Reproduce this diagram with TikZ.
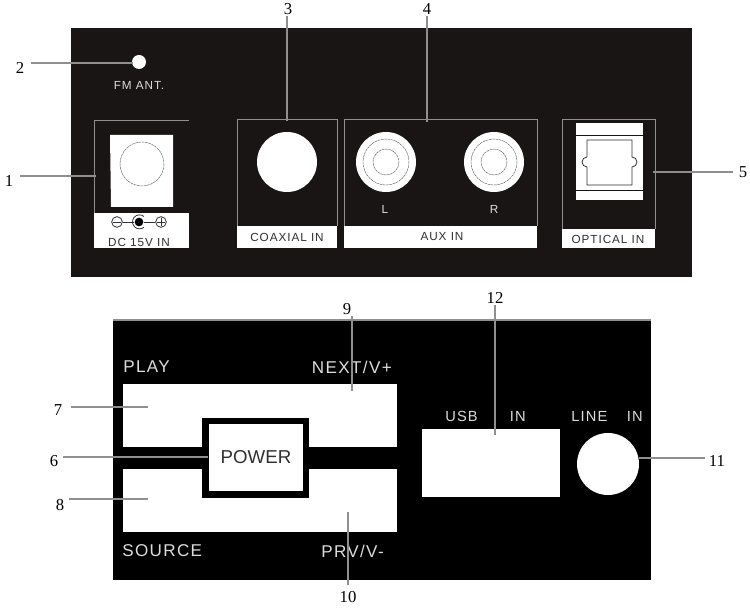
\documentclass[tikz,border=0pt]{standalone}
\usepackage{fontspec}
\setmainfont{Liberation Sans}
\newfontfamily\numfont{Liberation Serif}
\newfontfamily\panelfont[LetterSpace=8]{Liberation Sans}
\definecolor{topbg}{HTML}{1A1515}
\definecolor{leader}{HTML}{8F8F8F}
\definecolor{paneltxt}{HTML}{DCDCDC}
\definecolor{boxtxt}{HTML}{303030}
\tikzset{
  x=0.75pt,y=-0.75pt,
  num/.style={font=\numfont\fontsize{12.5}{13}\selectfont,text=black,inner sep=0pt},
  lead/.style={draw=leader,line width=0.95pt},
  frame/.style={draw=leader,line width=0.65pt},
  whitefill/.style={fill=white,draw=none},
  darktxt/.style={font=\panelfont\fontsize{8.8}{9}\selectfont,text=boxtxt,inner sep=0pt},
  lighttxt/.style={font=\panelfont\fontsize{8.8}{9}\selectfont,text=paneltxt,inner sep=0pt},
  blacktxt/.style={font=\panelfont\fontsize{12.8}{13}\selectfont,text=paneltxt,inner sep=0pt},
  sockettxt/.style={font=\panelfont\fontsize{11}{12}\selectfont,text=paneltxt,inner sep=0pt},
  thindash/.style={draw=gray!80!black,line width=0.35pt,dash pattern=on 2pt off 0.5pt},
}
\begin{document}
\begin{tikzpicture}
\useasboundingbox (0,0) rectangle (750,609);
\fill[white] (0,0) rectangle (750,609);
% top panel
\fill[topbg] (71,28) rectangle (692,277);
% FM
\node[circle,fill=white,minimum size=10.5pt,inner sep=0pt] (fm) at (139,62) {};
\node[lighttxt] (fmt) at (139,85) {FM ANT.};
% DC
\node[whitefill,minimum width=71.25pt,minimum height=26.25pt,inner sep=0pt] (dclab) at (141.5,230.5) {};
\draw[frame] (94,213) -- (94,120) -- (189,120);
\fill[white] (110,135) -- (173,135) -- (173,207) -- (111,207) -- cycle;
\draw[thindash] (142,164) circle (22);
\node[circle,draw=boxtxt,line width=0.6pt,minimum size=8pt,inner sep=0pt] (mn) at (117,222) {};
\node[circle,draw=boxtxt,line width=0.6pt,minimum size=8pt,inner sep=0pt] (pl) at (161,222) {};
\node[circle,fill=black,minimum size=6.5pt,inner sep=0pt] (ctr) at (139,222) {};
\draw[boxtxt,line width=0.6pt] (mn.east) -- (ctr.west);
\draw[boxtxt,line width=0.6pt] (ctr.east) -- (pl.west);
\draw[boxtxt,line width=0.6pt] (113,222) -- (121,222);
\draw[boxtxt,line width=0.6pt] (157,222) -- (165,222) (161,218) -- (161,226);
\draw[boxtxt,line width=0.6pt] (144,216.5) arc[start angle=-50,end angle=-310,radius=7];
\node[darktxt] (dct) at (139,242) {DC 15V IN};
% coaxial
\draw[frame] (237,226) -- (237,119) -- (337,119) -- (337,226);
\fill[white] (237,226) rectangle (337,248);
\node[circle,fill=white,minimum size=45pt,inner sep=0pt] (coax) at (287,162) {};
\node[darktxt] (coaxt) at (287,237) {COAXIAL IN};
% aux
\draw[frame] (344,226) -- (344,119) -- (537,119) -- (537,226);
\fill[white] (344,226) rectangle (537,248);
\node[circle,fill=white,minimum size=45pt,inner sep=0pt] (auxl) at (386,162) {};
\node[circle,fill=white,minimum size=45pt,inner sep=0pt] (auxr) at (494,162) {};
\draw[thindash] (386,162) circle (23) (386,162) circle (13);
\draw[thindash] (494,162) circle (23) (494,162) circle (13);
\node[lighttxt] (ltxt) at (385,209) {L};
\node[lighttxt] (rtxt) at (494,209) {R};
\node[darktxt] (auxt) at (442,237) {AUX IN};
% optical
\draw[frame] (562,229) -- (562,119) -- (655,119) -- (655,229);
\fill[white] (562,229) rectangle (655,248);
\fill[white] (576,123) rectangle (643,200);
\draw[topbg,line width=0.5pt] (576,135) -- (643,135) (576,190) -- (643,190);
\draw[boxtxt,line width=0.6pt] (587,157) -- (587,140) -- (632,140) -- (632,157)
  arc[start angle=-90,end angle=90,radius=5] -- (632,185) -- (587,185) -- (587,167)
  arc[start angle=90,end angle=270,radius=5];
\node[darktxt] (optt) at (608,239) {OPTICAL IN};
% bottom panel
\fill[black] (113,320) rectangle (651,580);
\draw[leader,line width=0.95pt] (113,320) -- (651,320);
\fill[white] (123,384) rectangle (397,447);
\fill[white] (123,469) rectangle (397,532);
\fill[black] (202,418) rectangle (309,498);
\node[whitefill,minimum width=70.5pt,minimum height=50.25pt,inner sep=0pt] (pw) at (256,457.5) {};
\node[font=\fontsize{14}{15}\selectfont,text=boxtxt,inner sep=0pt] (pwt) at (256,457) {POWER};
\node[blacktxt,anchor=west] (play) at (123,367) {PLAY};
\node[blacktxt,anchor=east] (next) at (392,367) {NEXT/V+};
\node[blacktxt,anchor=west] (src) at (122,551) {SOURCE};
\node[blacktxt,anchor=west] (prv) at (321,551) {PRV/V-};
\node[sockettxt,anchor=west] (usb) at (445,416) {USB};
\node[sockettxt,anchor=east] (usbin) at (526,416) {IN};
\node[sockettxt,anchor=west] (line) at (571,416) {LINE};
\node[sockettxt,anchor=east] (linein) at (643,416) {IN};
\node[whitefill,minimum width=103.5pt,minimum height=51pt,inner sep=0pt] (usbb) at (491,463) {};
\node[circle,fill=white,minimum size=46.5pt,inner sep=0pt] (linec) at (608,464) {};
% leader end points
\coordinate (a1) at (20,176); \coordinate (b1) at (96,176);
\coordinate (a2) at (31,63); \coordinate (b2) at (133,63);
\coordinate (a3) at (287,16); \coordinate (b3) at (287,121);
\coordinate (a4) at (427,16); \coordinate (b4) at (427,122);
\coordinate (a5) at (733,172); \coordinate (b5) at (653,172);
\coordinate (a6) at (63,457); \coordinate (b6) at (208,457);
\coordinate (a7) at (71,407); \coordinate (b7) at (148,407);
\coordinate (a8) at (69,499); \coordinate (b8) at (148,499);
\coordinate (a9) at (352,316); \coordinate (b9) at (352,391);
\coordinate (a10) at (348,585); \coordinate (b10) at (348,512);
\coordinate (a11) at (705,458); \coordinate (b11) at (639,458);
\coordinate (a12) at (495,305); \coordinate (b12) at (495,435);
\foreach \i in {1,...,12} {\draw[lead] (a\i) -- (b\i);}
% numbers
\node[num] (n1) at (9,181) {1};
\node[num] (n2) at (20,68) {2};
\node[num] (n3) at (288,9) {3};
\node[num] (n4) at (427,9) {4};
\node[num] (n5) at (743,172) {5};
\node[num] (n6) at (54,461) {6};
\node[num] (n7) at (58,410) {7};
\node[num] (n8) at (60,505) {8};
\node[num] (n9) at (347,309) {9};
\node[num] (n10) at (348,597) {10};
\node[num] (n11) at (717,461) {11};
\node[num] (n12) at (495,298) {12};
\end{tikzpicture}
\end{document}
